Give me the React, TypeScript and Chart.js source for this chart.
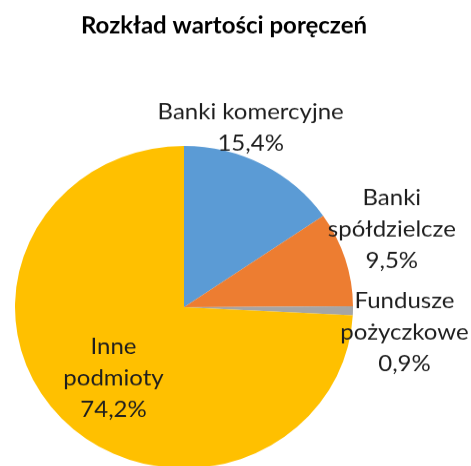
import React, { useEffect, useRef } from "react";
import { Chart, registerables } from "chart.js";

Chart.register(...registerables);

const chartTitle = "Rozkład wartości poręczeń";
const categories = ["Banki komercyjne", "Banki spółdzielcze", "Fundusze pożyczkowe", "Inne podmioty"];
const labelLines = [["Banki komercyjne"], ["Banki", "spółdzielcze"], ["Fundusze", "pożyczkowe"], ["Inne", "podmioty"]];
const values = [15.4, 9.5, 0.9, 74.2];
const colors = ["#5B9BD5", "#ED7D31", "#A5A5A5", "#FFC000"];

// label placement relative to each slice: radial factor and small nudge (px)
const labelPlacement = [
  { k: 1.166, dx: -25, dy: -14 },
  { k: 1.32, dx: -5, dy: -15 },
  { k: 1.305, dx: 0, dy: 21 },
  { k: 0.6, dx: 3, dy: 4 },
];

const FONT = "Lato, 'Open Sans', sans-serif";

const labelPlugin = {
  id: "sliceLabels",
  afterDatasetsDraw(chart: any) {
    const ctx = chart.ctx as CanvasRenderingContext2D;
    const meta = chart.getDatasetMeta(0);
    ctx.save();
    // title
    ctx.fillStyle = "#000000";
    ctx.font = `bold 24px ${FONT}`;
    ctx.textAlign = "center";
    ctx.textBaseline = "alphabetic";
    ctx.fillText(chartTitle, 224, 35);

    ctx.font = `24px ${FONT}`;
    ctx.fillStyle = "#1e1e1e";
    ctx.textBaseline = "middle";
    const lh = 33;
    meta.data.forEach((arc: any, i: number) => {
      const p = arc.getProps(["x", "y", "startAngle", "endAngle", "outerRadius"], true);
      const mid = (p.startAngle + p.endAngle) / 2;
      const pl = labelPlacement[i];
      const cx = p.x + Math.cos(mid) * p.outerRadius * pl.k + pl.dx;
      const cy = p.y + Math.sin(mid) * p.outerRadius * pl.k + pl.dy;
      const lines = [...labelLines[i], values[i].toFixed(1).replace(".", ",") + "%"];
      const top = cy - ((lines.length - 1) * lh) / 2;
      lines.forEach((t, j) => ctx.fillText(t, cx, top + j * lh));
    });
    ctx.restore();
  },
};

export default function App() {
  const ref = useRef<HTMLCanvasElement>(null);
  useEffect(() => {
    const chart = new Chart(ref.current as HTMLCanvasElement, {
      type: "pie",
      data: {
        labels: categories,
        datasets: [
          {
            data: values,
            backgroundColor: colors,
            borderWidth: 0,
          },
        ],
      },
      options: {
        responsive: false,
        animation: false,
        layout: { padding: { left: 15, right: 118, top: 153, bottom: 9 } },
        plugins: {
          legend: { display: false },
          tooltip: { enabled: false },
          title: { display: false },
        },
      },
      plugins: [labelPlugin],
    });
    return () => chart.destroy();
  }, []);
  return (
    <div style={{ position: "fixed", left: 0, top: 0, width: 471, height: 466, overflow: "hidden", background: "#fff" }}>
      <div style={{ width: 471, height: 500, transform: "scaleY(0.954)", transformOrigin: "top left" }}>
        <canvas ref={ref} width={471} height={500} style={{ width: 471, height: 500, display: "block" }} />
      </div>
    </div>
  );
}
